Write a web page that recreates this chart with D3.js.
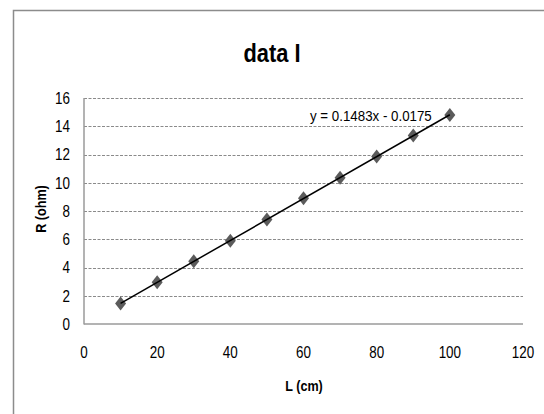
<!DOCTYPE html>
<html><head><meta charset="utf-8">
<script src="https://cdn.jsdelivr.net/npm/d3@7"></script>
<style>
html,body{margin:0;padding:0;background:#fff;}
svg{display:block;}
text{font-family:"Liberation Sans Narrow","Arial Narrow","Liberation Sans",sans-serif;fill:#000;}
</style></head>
<body>
<script>
const lengths = [10, 20, 30, 40, 50, 60, 70, 80, 90, 100];
const resistances = [1.45, 2.95, 4.45, 5.9, 7.4, 8.9, 10.35, 11.85, 13.35, 14.8];
const xTicks = [0, 20, 40, 60, 80, 100, 120];
const yTicks = [0, 2, 4, 6, 8, 10, 12, 14, 16];
const trendSlope = 0.1483;
const trendIntercept = -0.0175;
const titleText = "data I";
const xTitle = "L  (cm)";
const yTitle = "R  (ohm)";
const eqText = "y = 0.1483x - 0.0175";

const W = 544, H = 414;
const svg = d3.select("body").append("svg").attr("width", W).attr("height", H);
const SX = 0.84; // horizontal squeeze to mimic a condensed face

svg.append("rect").attr("x", 13.5).attr("y", 10.5).attr("width", 600).attr("height", 600)
  .attr("fill", "none").attr("stroke", "#8c8c8c").attr("stroke-width", 1.5);

const x = d3.scaleLinear().domain([0, 120]).range([84, 523]);
const y = d3.scaleLinear().domain([0, 16]).range([324, 98]);

svg.append("g").selectAll("line").data(yTicks.filter(d => d > 0)).join("line")
  .attr("x1", x(0)).attr("x2", x(120))
  .attr("y1", d => Math.round(y(d)) + 0.5).attr("y2", d => Math.round(y(d)) + 0.5)
  .attr("stroke", "#8a8a8a").attr("stroke-width", 1).attr("stroke-dasharray", "3,1.5");

svg.append("line").attr("x1", x(0)).attr("x2", x(0)).attr("y1", y(16)).attr("y2", y(0) + 0.5)
  .attr("stroke", "#9a9a9a").attr("stroke-width", 1.5);
svg.append("line").attr("x1", x(0)).attr("x2", x(120)).attr("y1", y(0)).attr("y2", y(0))
  .attr("stroke", "#9a9a9a").attr("stroke-width", 1.5);

svg.append("g").selectAll("text").data(yTicks).join("text")
  .attr("transform", d => `translate(70,${y(d)}) scale(${SX},1)`).attr("dy", "0.36em")
  .attr("text-anchor", "end").attr("font-size", 16).text(d => d);

svg.append("g").selectAll("text").data(xTicks).join("text")
  .attr("transform", d => `translate(${x(d)},358) scale(${SX},1)`)
  .attr("text-anchor", "middle").attr("font-size", 16).text(d => d);

svg.append("text").attr("transform", `translate(272,62) scale(${SX},1)`).attr("text-anchor", "middle")
  .attr("font-size", 26).attr("font-weight", "bold").text(titleText);
svg.append("text").attr("transform", `translate(304,391) scale(${SX},1)`).attr("text-anchor", "middle")
  .attr("font-size", 15).attr("font-weight", "bold").text(xTitle);
svg.append("text").attr("transform", `translate(46,209) rotate(-90) scale(${SX},1)`).attr("text-anchor", "middle")
  .attr("font-size", 15).attr("font-weight", "bold").text(yTitle);

const pts = lengths.map((l, i) => ({ l, r: resistances[i] }));
svg.append("g").selectAll("path").data(pts).join("path")
  .attr("d", d => { const cx = x(d.l), cy = y(d.r), a = 5.5, b = 7;
    return `M${cx},${cy - b}L${cx + a},${cy}L${cx},${cy + b}L${cx - a},${cy}Z`; })
  .attr("fill", "#5b5b5b");

const xs = d3.extent(lengths);
svg.append("line")
  .attr("x1", x(xs[0])).attr("y1", y(trendSlope * xs[0] + trendIntercept))
  .attr("x2", x(xs[1])).attr("y2", y(trendSlope * xs[1] + trendIntercept))
  .attr("stroke", "#000").attr("stroke-width", 1.5);

svg.append("text").attr("transform", `translate(310,121) scale(0.86,1)`).attr("font-size", 15.5).text(eqText);
</script>
</body></html>
